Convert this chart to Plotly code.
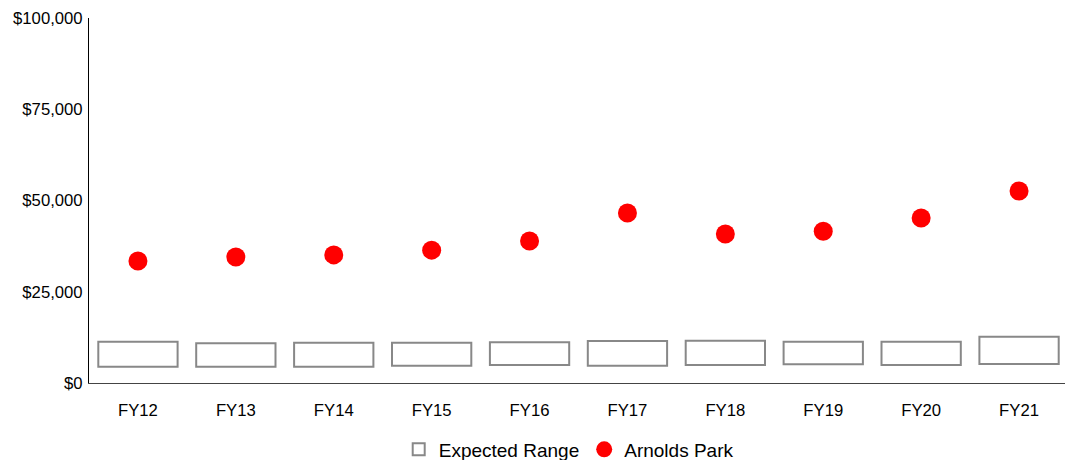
import plotly.graph_objects as go

categories = ["FY12", "FY13", "FY14", "FY15", "FY16", "FY17", "FY18", "FY19", "FY20", "FY21"]
range_low = [4470, 4470, 4470, 4740, 4930, 4740, 4930, 5120, 4930, 5200]
range_high = [11320, 10880, 11040, 11040, 11150, 11510, 11590, 11320, 11320, 12690]
arnolds_park = [33400, 34500, 35100, 36400, 38900, 46600, 40800, 41600, 45200, 52600]
y_ticks = [0, 25000, 50000, 75000, 100000]
y_tick_labels = ["$0", "$25,000", "$50,000", "$75,000", "$100,000"]

fig = go.Figure()
fig.add_trace(go.Bar(
    x=categories,
    y=[h - l for h, l in zip(range_high, range_low)],
    base=range_low,
    name="Expected Range",
    width=0.81,
    marker=dict(color="white", line=dict(color="#888888", width=2)),
    hoverinfo="skip",
))
fig.add_trace(go.Scatter(
    x=categories,
    y=arnolds_park,
    mode="markers",
    name="Arnolds Park",
    marker=dict(color="#ff0000", size=19),
))

fig.update_layout(
    width=1065, height=452,
    margin=dict(l=81, r=5, t=10, b=77, autoexpand=False),
    plot_bgcolor="white", paper_bgcolor="white",
    font=dict(family="Liberation Sans, Arial, sans-serif", size=16.7, color="#000"),
    showlegend=True,
    legend=dict(orientation="h", x=0.49, xanchor="center", y=-0.13, yanchor="top",
                font=dict(size=19), itemsizing="trace", itemwidth=30),
    bargap=0.19,
)
fig.update_xaxes(range=[-0.5, len(categories) - 0.5], showline=True, linecolor="#444444",
                 linewidth=1, showgrid=False, ticks="", zeroline=False, automargin=False,
                 ticklabelstandoff=12)
fig.update_yaxes(range=[0, 100000], tickvals=y_ticks, ticktext=y_tick_labels,
                 showline=True, linecolor="#000000", linewidth=1, showgrid=False,
                 ticks="", zeroline=False, ticklabelstandoff=2, automargin=False)

fig.write_html("out.html")
